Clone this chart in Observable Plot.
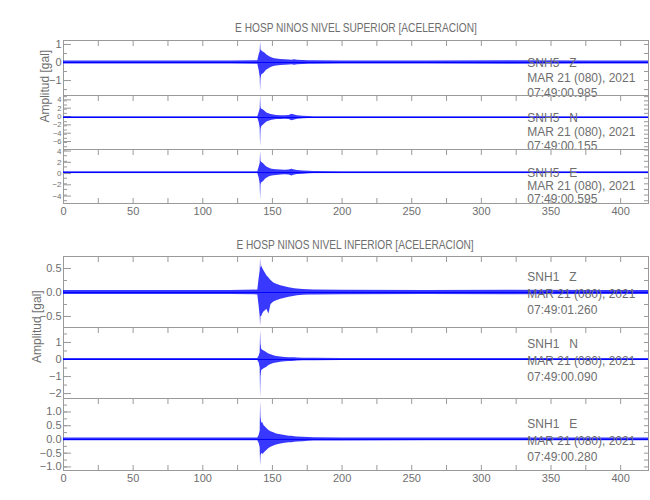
<!DOCTYPE html>
<html>
<head>
<meta charset="utf-8">
<script src="https://cdn.jsdelivr.net/npm/d3@7"></script>
<script src="https://cdn.jsdelivr.net/npm/@observablehq/plot@0.6"></script>
<style>
  html, body { margin: 0; padding: 0; background: #fff; }
  #wrap { position: relative; width: 650px; height: 500px; overflow: hidden; }
  #wrap svg { position: absolute; left: 0; }
  .ttl { position: absolute; left: 63px; width: 585px; text-align: center; font: 13px "Liberation Sans", Arial, sans-serif; color: #6e6e6e; }
  .ttl span { display: inline-block; transform: scaleX(0.78); transform-origin: center; white-space: nowrap; }
</style>
</head>
<body>
<div id="wrap"></div>
<script>
// ---------- data ----------
const titles = ["E HOSP NINOS NIVEL SUPERIOR [ACELERACION]", "E HOSP NINOS NIVEL INFERIOR [ACELERACION]"];
const yLabel = "Amplitud [gal]";
const xTicks = [0, 50, 100, 150, 200, 250, 300, 350, 400];

// envelope sample times (s)
const T = [0, 60, 120, 139.5, 140.5, 141.2, 141.5, 141.8, 142.3, 143, 144, 145, 146, 147.5, 149, 151, 153, 156, 159, 162, 164, 166, 168, 172, 176, 180, 200, 260, 320, 380, 420];

// SNH5 (upper level)
const snh5Z_hi = [0.09,0.09,0.09,0.1,0.45,0.6,1.15,0.7,0.65,0.6,0.55,0.5,0.42,0.35,0.28,0.22,0.2,0.17,0.15,0.14,0.13,0.15,0.12,0.11,0.1,0.1,0.09,0.09,0.1,0.09,0.09];
const snh5Z_lo = [-0.09,-0.09,-0.09,-0.1,-0.45,-0.8,-1.6,-0.9,-0.7,-0.65,-0.6,-0.5,-0.42,-0.35,-0.28,-0.22,-0.2,-0.17,-0.15,-0.14,-0.13,-0.15,-0.12,-0.11,-0.1,-0.1,-0.09,-0.09,-0.1,-0.09,-0.09];
const snh5N_hi = [0.2,0.2,0.2,0.2,1.2,2.0,5.3,2.4,2.0,1.9,1.7,1.4,1.1,0.9,0.7,0.6,0.5,0.45,0.4,0.5,0.8,0.6,0.4,0.3,0.25,0.2,0.2,0.2,0.2,0.2,0.2];
const snh5N_lo = [-0.2,-0.2,-0.2,-0.2,-1.2,-2.5,-7.0,-3.0,-2.2,-2.0,-1.7,-1.4,-1.1,-0.9,-0.7,-0.6,-0.5,-0.45,-0.4,-0.5,-0.8,-0.6,-0.4,-0.3,-0.25,-0.2,-0.2,-0.2,-0.2,-0.2,-0.2];
const snh5E_hi = [0.15,0.15,0.15,0.15,1.0,1.6,3.7,2.0,1.8,1.7,1.5,1.2,1.0,0.8,0.65,0.55,0.5,0.45,0.4,0.45,0.6,0.45,0.35,0.28,0.22,0.18,0.15,0.15,0.15,0.15,0.15];
const snh5E_lo = [-0.15,-0.15,-0.15,-0.15,-1.0,-2.0,-4.9,-2.2,-1.8,-1.7,-1.5,-1.2,-1.0,-0.8,-0.65,-0.55,-0.5,-0.45,-0.4,-0.45,-0.6,-0.45,-0.35,-0.28,-0.22,-0.18,-0.15,-0.15,-0.15,-0.15,-0.15];

// SNH1 (lower level)
const snh1Z_hi = [0.04,0.04,0.04,0.05,0.3,0.45,0.72,0.5,0.55,0.5,0.45,0.4,0.35,0.3,0.25,0.2,0.17,0.14,0.12,0.1,0.09,0.08,0.07,0.06,0.055,0.05,0.045,0.04,0.045,0.04,0.04];
const snh1Z_lo = [-0.04,-0.04,-0.04,-0.05,-0.3,-0.5,-0.7,-0.5,-0.5,-0.45,-0.4,-0.38,-0.35,-0.45,-0.25,-0.2,-0.17,-0.14,-0.12,-0.1,-0.09,-0.08,-0.07,-0.06,-0.055,-0.05,-0.045,-0.04,-0.045,-0.04,-0.04];
const snh1N_hi = [0.06,0.06,0.06,0.06,0.2,0.4,1.7,0.9,0.6,0.55,0.5,0.45,0.4,0.33,0.28,0.22,0.18,0.15,0.12,0.11,0.1,0.1,0.09,0.08,0.07,0.07,0.06,0.06,0.06,0.06,0.06];
const snh1N_lo = [-0.06,-0.06,-0.06,-0.06,-0.2,-0.5,-2.25,-1.0,-0.65,-0.6,-0.55,-0.5,-0.45,-0.35,-0.3,-0.24,-0.2,-0.16,-0.13,-0.12,-0.11,-0.1,-0.09,-0.08,-0.07,-0.07,-0.06,-0.06,-0.06,-0.06,-0.06];
const snh1E_hi = [0.05,0.05,0.05,0.05,0.15,0.3,1.38,0.8,0.6,0.62,0.5,0.45,0.4,0.33,0.28,0.24,0.2,0.17,0.14,0.12,0.12,0.1,0.09,0.08,0.07,0.06,0.055,0.05,0.05,0.05,0.05];
const snh1E_lo = [-0.05,-0.05,-0.05,-0.05,-0.15,-0.3,-0.97,-0.6,-0.5,-0.55,-0.5,-0.45,-0.4,-0.33,-0.28,-0.24,-0.2,-0.17,-0.14,-0.12,-0.12,-0.1,-0.09,-0.08,-0.07,-0.06,-0.055,-0.05,-0.05,-0.05,-0.05];

// y-axis ticks per panel
const ticksZ5 = [1, 0, -1];
const ticksN5 = [4, 2, 0, -2, -4, -6];
const ticksE5 = [4, 2, 0, -2, -4];
const ticksZ1 = [0.5, 0, -0.5];
const ticksN1 = [1, 0, -1, -2];
const ticksE1 = [1, 0.5, 0, -0.5, -1];

// station annotation text
const labelZ5 = ["SNH5   Z", "MAR 21 (080), 2021", "07:49:00.985"];
const labelN5 = ["SNH5   N", "MAR 21 (080), 2021", "07:49:00.155"];
const labelE5 = ["SNH5   E", "MAR 21 (080), 2021", "07:49:00.595"];
const labelZ1 = ["SNH1   Z", "MAR 21 (080), 2021", "07:49:01.260"];
const labelN1 = ["SNH1   N", "MAR 21 (080), 2021", "07:49:00.090"];
const labelE1 = ["SNH1   E", "MAR 21 (080), 2021", "07:49:00.280"];

// ---------- drawing ----------
const FONT = '"Liberation Sans", Arial, sans-serif';
const TXT = "#6e6e6e", AX = "#9a9a9a", BLUE = "#0000ff";
const wrap = document.getElementById("wrap");
const rowsOf = (hi, lo) => T.map((t, i) => ({t, hi: hi[i], lo: lo[i]}));
const stepTicks = (dom, step) => d3.range(Math.ceil(dom[0] / step) * step, dom[1] + 1e-9, step).map(v => +v.toFixed(6));

function panel(o) {
  const mb = o.bottom ? 22 : 0;
  const marks = [
    Plot.frame({stroke: AX}),
    Plot.axisX(d3.range(0, 421, 25), {anchor: "top", tickSize: -5, tickFormat: () => "", label: null, stroke: AX}),
    Plot.axisY(o.major, {anchor: "left", tickSize: -8, tickPadding: 10, tickFormat: o.fmt, label: null, stroke: AX, fill: TXT, fontSize: o.tickFont || 11, dy: o.tickDy || 0}),
    Plot.axisY(stepTicks(o.domain, o.minor), {anchor: "left", tickSize: -4, tickFormat: () => "", label: null, stroke: AX}),
    Plot.axisY(stepTicks(o.domain, o.minor), {anchor: "right", tickSize: -5, tickFormat: () => "", label: null, stroke: AX}),
    Plot.areaY(o.rows, {x: "t", y1: "lo", y2: "hi", fill: BLUE, fillOpacity: 0.78}),
    Plot.ruleY([0], {stroke: BLUE, strokeWidth: 1}),
    Plot.text([o.lines.join("\n")], {x: () => 333, y: () => 0, dy: o.textDy, textAnchor: "start", lineAnchor: "middle", lineHeight: o.lh, fill: TXT, fontSize: 12})
  ];
  if (o.bottom) {
    marks.push(Plot.axisX(d3.range(0, 421, 25), {anchor: "bottom", tickSize: -5, tickFormat: () => "", label: null, stroke: AX}));
    marks.push(Plot.axisX(xTicks, {anchor: "bottom", tickSize: 0, tickPadding: 4, label: null, fill: TXT, fontSize: 11}));
  }
  if (o.ylabel) {
    marks.push(Plot.text([yLabel], {frameAnchor: "left", rotate: -90, dx: o.ylabelDx, fill: TXT, fontSize: 12}));
  }
  const svg = Plot.plot({
    width: 650, height: o.height + mb,
    marginLeft: 63, marginRight: 2, marginTop: 0, marginBottom: mb,
    x: {domain: [0, 420]},
    y: {domain: o.domain},
    style: {background: "transparent", overflow: "visible", fontFamily: FONT, fontSize: "11px", color: TXT},
    marks
  });
  svg.style.top = o.top + "px";
  wrap.appendChild(svg);
}

const fmtInt = d3.format("d");
const fmt1 = d3.format(".1f");

// upper group
panel({rows: rowsOf(snh5Z_hi, snh5Z_lo), domain: [-1.83, 1.22], top: 40, height: 55, major: ticksZ5, minor: 0.5, fmt: fmtInt, lines: labelZ5, lh: 1.25, textDy: 15});
panel({rows: rowsOf(snh5N_hi, snh5N_lo), domain: [-7.67, 5.28], top: 95, height: 54, major: ticksN5, minor: 1, fmt: fmtInt, lines: labelN5, lh: 1.17, textDy: 14, ylabel: true, ylabelDx: -18, tickFont: 7.5, tickDy: -1});
panel({rows: rowsOf(snh5E_hi, snh5E_lo), domain: [-5.5, 4.1], top: 149, height: 54, major: ticksE5, minor: 1, fmt: fmtInt, lines: labelE5, lh: 1.1, textDy: 13, bottom: true, tickFont: 8, tickDy: 1});
// lower group
panel({rows: rowsOf(snh1Z_hi, snh1Z_lo), domain: [-0.73, 0.75], top: 256, height: 71, major: ticksZ1, minor: 0.25, fmt: fmt1, lines: labelZ1, lh: 1.37, textDy: 0});
panel({rows: rowsOf(snh1N_hi, snh1N_lo), domain: [-2.29, 1.88], top: 327, height: 71, major: ticksN1, minor: 0.5, fmt: fmtInt, lines: labelN1, lh: 1.37, textDy: 0, ylabel: true, ylabelDx: -26});
panel({rows: rowsOf(snh1E_hi, snh1E_lo), domain: [-1.13, 1.49], top: 398, height: 72, major: ticksE1, minor: 0.25, fmt: fmt1, lines: labelE1, lh: 1.37, textDy: 0, bottom: true});

// group titles
[[titles[0], 20], [titles[1], 237]].forEach(([s, y]) => {
  const d = document.createElement("div");
  d.className = "ttl"; d.style.top = y + "px";
  const sp = document.createElement("span");
  sp.textContent = s;
  d.appendChild(sp);
  wrap.appendChild(d);
});
</script>
</body>
</html>
